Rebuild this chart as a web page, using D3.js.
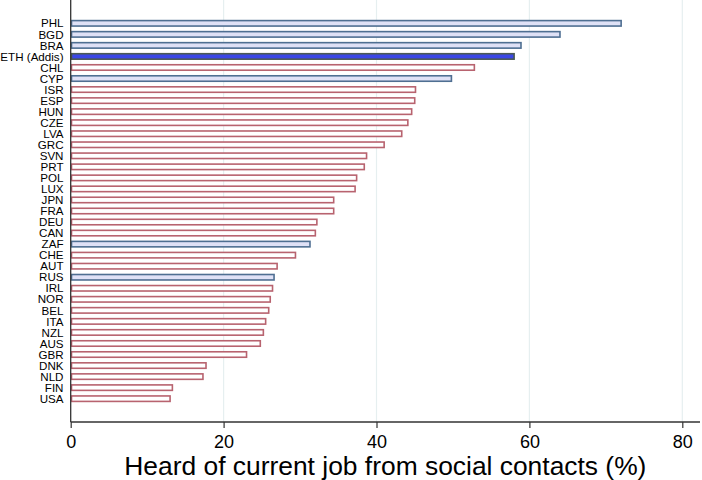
<!DOCTYPE html>
<html><head><meta charset="utf-8">
<script src="https://cdn.jsdelivr.net/npm/d3@7"></script>
<style>
body{margin:0;background:#fff;}
svg{display:block;font-family:"Liberation Sans",Arial,Helvetica,sans-serif;}
</style></head>
<body><svg id="c" width="702" height="480"></svg>
<script>
const countries = ["PHL","BGD","BRA","ETH (Addis)","CHL","CYP","ISR","ESP","HUN","CZE","LVA","GRC","SVN","PRT","POL","LUX","JPN","FRA","DEU","CAN","ZAF","CHE","AUT","RUS","IRL","NOR","BEL","ITA","NZL","AUS","GBR","DNK","NLD","FIN","USA"];
const values = [72.0,64.0,58.9,58.0,52.8,49.8,45.1,45.0,44.6,44.1,43.3,41.0,38.7,38.4,37.4,37.2,34.4,34.4,32.2,32.0,31.3,29.4,27.0,26.6,26.4,26.1,25.9,25.5,25.2,24.8,23.0,17.7,17.3,13.3,13.0];
// group: "dev" = developing (blue), "eth" = highlighted, "oecd" = red outline
const groups = ["dev","dev","dev","eth","oecd","dev","oecd","oecd","oecd","oecd","oecd","oecd","oecd","oecd","oecd","oecd","oecd","oecd","oecd","oecd","dev","oecd","oecd","dev","oecd","oecd","oecd","oecd","oecd","oecd","oecd","oecd","oecd","oecd","oecd"];
const xTicks = [0,20,40,60,80];
const xTitle = "Heard of current job from social contacts (%)";

const svg = d3.select("#c");
const x0 = 70.7, x1 = 700, yTop = 0, yBot = 422;
const x = d3.scaleLinear().domain([0,82.4]).range([x0, x0 + 82.4*7.645]);
const y = d3.scaleBand().domain(countries).range([17.8, 404.2]).paddingInner(0.36).paddingOuter(0.18);

const fills = {dev:"#dfe1f6", eth:"#3b47e6", oecd:"#ffffff"};
const strokes = {dev:"#4f6f92", eth:"#4b5a55", oecd:"#b8636f"};

// gridlines
svg.append("g").selectAll("line").data(xTicks.filter(d=>d>0)).join("line")
  .attr("x1", d=>x(d)).attr("x2", d=>x(d)).attr("y1", yTop).attr("y2", yBot)
  .attr("stroke", "#e6eff0").attr("stroke-width", 1.2);

// bars
const data = countries.map((c,i)=>({c, v:values[i], g:groups[i]}));
svg.append("g").selectAll("rect").data(data).join("rect")
  .attr("x", x(0)+0.8).attr("y", d=>y(d.c)+0.8)
  .attr("width", d=>x(d.v)-x(0)-0.8).attr("height", y.bandwidth()-1.6)
  .attr("fill", d=>fills[d.g]).attr("stroke", d=>strokes[d.g]).attr("stroke-width", 1.6);

// y labels
svg.append("g").selectAll("text").data(countries).join("text")
  .attr("x", 63.5).attr("y", d=>y(d)+y.bandwidth()/2).attr("dy","0.36em")
  .attr("text-anchor","end").attr("font-size", 11.6).attr("fill","#000").text(d=>d);

// y axis line
svg.append("line").attr("x1", x0).attr("x2", x0).attr("y1", yTop).attr("y2", yBot)
  .attr("stroke","#333").attr("stroke-width",1.3);

// x axis
const xa = svg.append("g").attr("transform", `translate(0,${yBot})`)
  .call(d3.axisBottom(x).tickValues(xTicks).tickSize(6).tickPadding(7).tickSizeOuter(0));
xa.select(".domain").remove();
xa.append("line").attr("x1", x0).attr("x2", x1).attr("y1",0).attr("y2",0).attr("stroke","#333").attr("stroke-width",1.3);
xa.selectAll(".tick line").attr("stroke","#333").attr("stroke-width",1.2);
xa.selectAll(".tick text").attr("font-size",18).attr("fill","#000")
  .attr("font-family","'Liberation Sans',Arial,sans-serif");

svg.append("text").attr("x", (x0+x1)/2).attr("y", 475).attr("text-anchor","middle")
  .attr("font-size", 26.4).attr("fill","#000").text(xTitle);
</script></body></html>
